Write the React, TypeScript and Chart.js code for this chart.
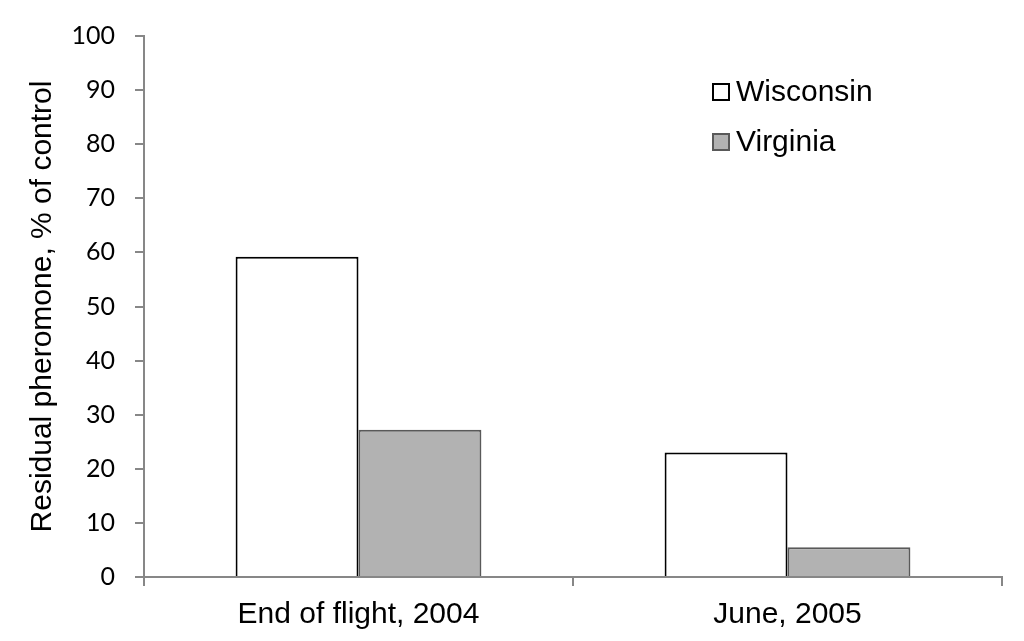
import React, { useEffect, useRef } from "react";
import { Chart, registerables } from "chart.js";

Chart.register(...registerables);

const categories = ["End of flight, 2004", "June, 2005"];
const wisconsinValues = [59.2, 23.0];
const virginiaValues = [27.2, 5.5];
const seriesLabels = ["Wisconsin", "Virginia"];
const yTickMin = 0;
const yTickMax = 100;
const yTickStep = 10;

const AXIS_GRAY = "#878787";

const customLegend = {
  id: "customLegend",
  afterDraw(chart: any) {
    const ctx = chart.ctx;
    const x = 713;
    const ys = [92, 142];
    ctx.save();
    chart.data.datasets.forEach((ds: any, i: number) => {
      const y = ys[i];
      ctx.fillStyle = ds.backgroundColor;
      ctx.strokeStyle = ds.borderColor;
      ctx.lineWidth = 2;
      ctx.fillRect(x, y - 8, 16, 16);
      ctx.strokeRect(x, y - 8, 16, 16);
      ctx.fillStyle = "#000";
      ctx.font = "30px 'Liberation Sans', Arial, sans-serif";
      ctx.textBaseline = "middle";
      ctx.textAlign = "left";
      ctx.fillText(ds.label, 736, y + 1);
    });
    ctx.restore();
  },
};

export default function App() {
  const canvasRef = useRef<HTMLCanvasElement | null>(null);

  useEffect(() => {
    const canvas = canvasRef.current;
    if (!canvas) return;
    const chart = new Chart(canvas, {
      type: "bar",
      data: {
        labels: categories,
        datasets: [
          {
            label: seriesLabels[0],
            data: wisconsinValues,
            backgroundColor: "#ffffff",
            borderColor: "#000000",
            borderWidth: 2,
            borderSkipped: "start",
          },
          {
            label: seriesLabels[1],
            data: virginiaValues,
            backgroundColor: "#b2b2b2",
            borderColor: "#595959",
            borderWidth: 2,
            borderSkipped: "start",
          },
        ],
      },
      options: {
        responsive: false,
        animation: false,
        devicePixelRatio: 1,
        layout: { padding: { left: 0, right: 22, top: 36, bottom: 0 } },
        datasets: { bar: { categoryPercentage: 0.573, barPercentage: 1.0 } },
        plugins: {
          legend: { display: false },
          tooltip: { enabled: false },
        },
        scales: {
          x: {
            grid: {
              offset: true,
              drawOnChartArea: false,
              drawTicks: true,
              tickLength: 9,
              color: AXIS_GRAY,
              lineWidth: 2,
            },
            border: { color: AXIS_GRAY, width: 2 },
            ticks: {
              color: "#000",
              padding: 11,
              font: { family: "'Liberation Sans', Arial, sans-serif", size: 30 },
              maxRotation: 0,
            },
            afterFit: (s: any) => {
              s.height = 64;
            },
          },
          y: {
            min: yTickMin,
            max: yTickMax,
            ticks: {
              stepSize: yTickStep,
              color: "#000",
              padding: 20,
              font: { family: "Lato, 'Open Sans', sans-serif", size: 25 },
            },
            grid: {
              drawOnChartArea: false,
              drawTicks: true,
              tickLength: 9,
              color: AXIS_GRAY,
              lineWidth: 2,
            },
            border: { color: AXIS_GRAY, width: 2 },
            title: {
              display: true,
              text: "Residual pheromone, % of control",
              color: "#000",
              font: { family: "'Liberation Sans', Arial, sans-serif", size: 30 },
              padding: { top: 25, bottom: 0 },
            },
            afterFit: (s: any) => {
              s.width = 144;
            },
          },
        },
      },
      plugins: [customLegend],
    });
    return () => chart.destroy();
  }, []);

  return (
    <div style={{ position: "absolute", left: 0, top: 0, width: 1024, height: 641, background: "#fff" }}>
      <canvas ref={canvasRef} width={1024} height={641} />
    </div>
  );
}
